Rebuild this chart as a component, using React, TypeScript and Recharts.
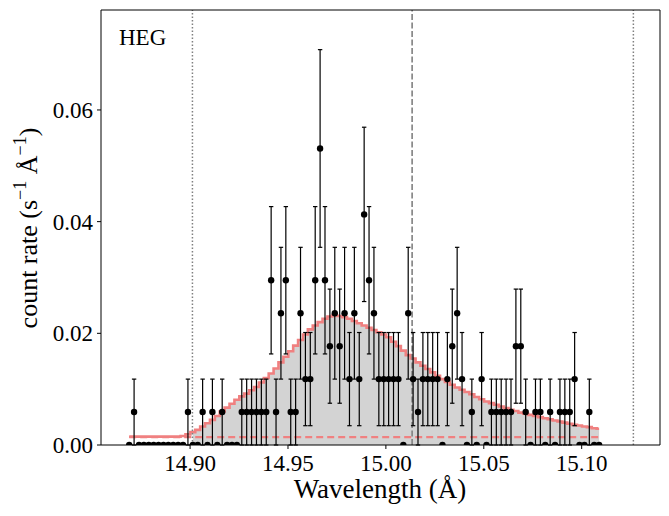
import { ComposedChart, Area, Line, Scatter, ErrorBar, XAxis, YAxis, ReferenceLine } from 'recharts'

// HEG spectrum around the Fe XVII 15.01 A line
const wavelengths = [
    14.8689, 14.8714, 14.8739, 14.8764, 14.8789, 14.8814, 14.8839, 14.8864, 14.8889, 14.8914,
    14.8939, 14.8964, 14.8989, 14.9014, 14.9039, 14.9064, 14.9089, 14.9114, 14.9139, 14.9164,
    14.9189, 14.9214, 14.9239, 14.9264, 14.9289, 14.9314, 14.9339, 14.9364, 14.9389, 14.9414,
    14.9439, 14.9464, 14.9489, 14.9514, 14.9539, 14.9564, 14.9589, 14.9614, 14.9639, 14.9664,
    14.9689, 14.9714, 14.9739, 14.9764, 14.9789, 14.9814, 14.9839, 14.9864, 14.9889, 14.9914,
    14.9939, 14.9964, 14.9989, 15.0014, 15.0039, 15.0064, 15.0089, 15.0114, 15.0139, 15.0164,
    15.0189, 15.0214, 15.0239, 15.0264, 15.0289, 15.0314, 15.0339, 15.0364, 15.0389, 15.0414,
    15.0439, 15.0464, 15.0489, 15.0514, 15.0539, 15.0564, 15.0589, 15.0614, 15.0639, 15.0664,
    15.0689, 15.0714, 15.0739, 15.0764, 15.0789, 15.0814, 15.0839, 15.0864, 15.0889, 15.0914,
    15.0939, 15.0964, 15.0989, 15.1014, 15.1039, 15.1064, 15.1089,
]

// observed counts per bin
const counts = [
    0, 1, 0, 0, 0, 0, 0, 0, 0, 0,
    0, 0, 1, 0, 0, 1, 0, 1, 0, 1,
    0, 0, 0, 1, 1, 1, 1, 1, 1, 5,
    1, 4, 5, 1, 1, 4, 2, 2, 5, 9,
    5, 3, 4, 3, 4, 2, 4, 2, 7, 5,
    4, 2, 2, 2, 2, 2, 0, 4, 2, 1,
    2, 2, 2, 2, 0, 2, 3, 4, 2, 0,
    1, 0, 2, 0, 1, 1, 1, 1, 1, 3,
    3, 1, 0, 1, 1, 0, 1, 0, 1, 1,
    1, 2, 0, 0, 1, 0, 0,
]

const ratePerCount = 0.0059

// folded model (count rate)
const model = [
    0.0015, 0.0015, 0.0015, 0.0015, 0.0015, 0.0015, 0.0015, 0.0015, 0.0015, 0.0015,
    0.0015, 0.0016, 0.0019, 0.0023, 0.0027, 0.0033, 0.0039, 0.0045, 0.0052, 0.0060,
    0.0067, 0.0074, 0.0081, 0.0087, 0.0092, 0.0098, 0.0104, 0.0112, 0.0120, 0.0128,
    0.0137, 0.0148, 0.0158, 0.0168, 0.0178, 0.0188, 0.0198, 0.0207, 0.0214, 0.0220,
    0.0226, 0.0230, 0.0232, 0.0231, 0.0229, 0.0226, 0.0222, 0.0218, 0.0214, 0.0210,
    0.0206, 0.0202, 0.0198, 0.0193, 0.0185, 0.0177, 0.0169, 0.0161, 0.0155, 0.0148,
    0.0142, 0.0136, 0.0130, 0.0124, 0.0118, 0.0113, 0.0108, 0.0103, 0.0099, 0.0095,
    0.0091, 0.0086, 0.0082, 0.0078, 0.0075, 0.0072, 0.0069, 0.0066, 0.0063, 0.0061,
    0.0058, 0.0056, 0.0054, 0.0052, 0.0050, 0.0048, 0.0046, 0.0044, 0.0042, 0.0040,
    0.0038, 0.0036, 0.0035, 0.0033, 0.0032, 0.0030, 0.0029,
]

const background = 0.0014
const fillStart = 14.90
const markers = { lower: 14.9012, centre: 15.0134, upper: 15.1264 }

const xDomain = [14.8545, 15.14]
const yDomain = [0, 0.0779]
const xTicks = [14.90, 14.95, 15.00, 15.05, 15.10]
const yTicks = [0, 0.02, 0.04, 0.06]

const data = wavelengths.map((wl, i) => ({
    wl,
    model: model[i],
    fill: wl >= fillStart ? model[i] : null,
    bg: background,
    count: counts[i],
    rate: counts[i] * ratePerCount,
    err: Math.sqrt(counts[i]) * ratePerCount,
}))

const font = '"Liberation Serif", "Times New Roman", serif'
const red = '#f08080'

function DataDot(props: any) {
    const { cx, cy, payload } = props
    if (cx == null || cy == null) return null
    if (payload.count === 0) {
        // clipped at the axis like the original
        return <path d={`M${cx - 3.2},${cy} A3.2,3.2 0 0 1 ${cx + 3.2},${cy} Z`} fill="#000" />
    }
    return <circle cx={cx} cy={cy} r={3.2} fill="#000" />
}

export default function App() {
    const tickStyle = { fontSize: 23, fill: '#000', fontFamily: font }
    return (
        <div style={{ position: 'absolute', left: 0, top: 0, width: 669, height: 516, background: '#fff', fontFamily: font }}>
            <ComposedChart width={669} height={516} data={data} margin={{ top: 10, right: 9, bottom: 0, left: 0 }} style={{ fontFamily: font }}>
                <XAxis
                    dataKey="wl"
                    type="number"
                    domain={xDomain}
                    allowDataOverflow
                    ticks={xTicks}
                    tickFormatter={(v: number) => v.toFixed(2)}
                    tick={tickStyle}
                    tickSize={4}
                    tickMargin={6}
                    height={71}
                    stroke="#000"
                    interval={0}
                />
                <YAxis
                    type="number"
                    domain={yDomain}
                    allowDataOverflow
                    ticks={yTicks}
                    tickFormatter={(v: number) => v.toFixed(2)}
                    tick={tickStyle}
                    tickSize={4}
                    tickMargin={4}
                    width={101}
                    stroke="#000"
                    interval={0}
                />
                <Area
                    dataKey="fill"
                    type="step"
                    fill="#d3d3d3"
                    fillOpacity={1}
                    stroke="none"
                    isAnimationActive={false}
                />
                <Line
                    dataKey="bg"
                    type="linear"
                    stroke={red}
                    strokeWidth={2.2}
                    strokeDasharray="7 4"
                    dot={false}
                    isAnimationActive={false}
                />
                <Line
                    dataKey="model"
                    type="step"
                    stroke={red}
                    strokeWidth={2.6}
                    dot={false}
                    isAnimationActive={false}
                />
                <ReferenceLine x={markers.lower} stroke="#808080" strokeWidth={1.5} strokeDasharray="1.5 2" />
                <ReferenceLine x={markers.centre} stroke="#808080" strokeWidth={1.6} strokeDasharray="6 2.5" />
                <ReferenceLine x={markers.upper} stroke="#808080" strokeWidth={1.5} strokeDasharray="1.5 2" />
                {/* plot frame: top and right spines */}
                <ReferenceLine y={yDomain[1]} stroke="#000" strokeWidth={1} />
                <ReferenceLine x={xDomain[1]} stroke="#000" strokeWidth={1} />
                <Scatter dataKey="rate" shape={DataDot} isAnimationActive={false}>
                    <ErrorBar dataKey="err" direction="y" width={2.2} stroke="#000" strokeWidth={1.2} isAnimationActive={false} />
                </Scatter>
            </ComposedChart>
            <svg width={669} height={516} style={{ position: 'absolute', left: 0, top: 0, pointerEvents: 'none' }}>
                <text x={119} y={45} fontSize={23} fontFamily={font} fill="#000">HEG</text>
                <text x={380} y={498} fontSize={27} fontFamily={font} fill="#000" textAnchor="middle">
                    Wavelength (Å)
                </text>
                <text
                    x={37}
                    y={228}
                    fontSize={26}
                    fontFamily={font}
                    fill="#000"
                    textAnchor="middle"
                    transform="rotate(-90 37 228)"
                >
                    count rate (s
                    <tspan dy={-11} fontSize={18}>{'\u2212'}1</tspan>
                    <tspan dy={11}> Å</tspan>
                    <tspan dy={-11} fontSize={18}>{'\u2212'}1</tspan>
                    <tspan dy={11}>)</tspan>
                </text>
            </svg>
        </div>
    )
}
